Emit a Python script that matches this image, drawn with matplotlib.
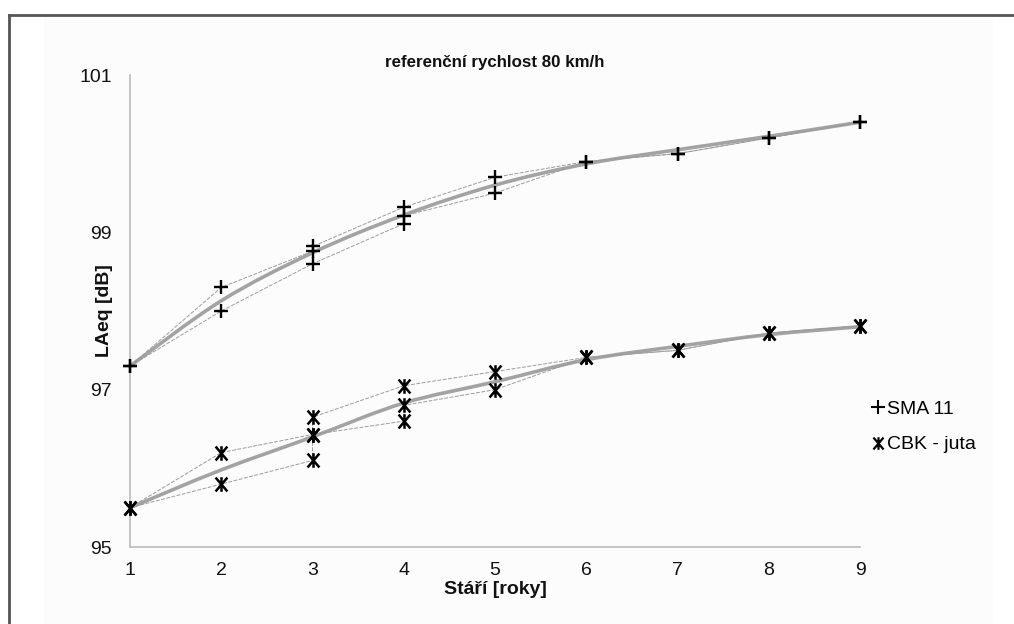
import matplotlib
matplotlib.use("Agg")
import matplotlib.pyplot as plt
from matplotlib.path import Path
from matplotlib.patches import PathPatch, Rectangle
from matplotlib.lines import Line2D
import numpy as np

plt.rcParams['font.family'] = ['Liberation Sans', 'DejaVu Sans']

# ---- data ----
years = [1, 2, 3, 4, 5, 6, 7, 8, 9]
x_ticks = [1, 2, 3, 4, 5, 6, 7, 8, 9]
y_ticks = [95, 97, 99, 101]

sma_a_x = [1, 2, 3, 3, 4, 5, 6, 7, 8, 9]
sma_a_y = [97.3, 98.3, 98.76, 98.82, 99.32, 99.7, 99.9, 100.0, 100.2, 100.4]
sma_b_x = [1, 2, 3, 4, 4, 5, 6, 7, 8, 9]
sma_b_y = [97.3, 98.0, 98.6, 99.11, 99.21, 99.5, 99.9, 100.0, 100.2, 100.4]

cbk_a_x = [1, 2, 3, 3, 4, 5, 6, 7, 8, 9]
cbk_a_y = [95.5, 96.2, 96.43, 96.65, 97.05, 97.23, 97.41, 97.5, 97.72, 97.81]
cbk_b_x = [1, 2, 3, 3, 4, 4, 5, 6, 7, 8, 9]
cbk_b_y = [95.5, 95.8, 96.1, 96.43, 96.6, 96.8, 97.0, 97.41, 97.5, 97.72, 97.81]

sma_trend = [97.3, 98.13, 98.74, 99.22, 99.6, 99.87, 100.05, 100.22, 100.4]
cbk_trend = [95.5, 95.98, 96.4, 96.83, 97.1, 97.38, 97.55, 97.7, 97.8]

labels = ["SMA 11", "CBK - juta"]
title = "referenční rychlost 80 km/h"
xlabel = "Stáří [roky]"
ylabel = "LAeq [dB]"

# ---- figure ----
W, H = 1014, 624
fig = plt.figure(figsize=(W / 100, H / 100), dpi=100)
fig.patch.set_facecolor('white')

# chart-area background and frame
fig.add_artist(Rectangle((44 / W, 0), (993 - 44) / W, 1 - 17 / H,
                         transform=fig.transFigure, facecolor='#fcfcfc',
                         edgecolor='none', zorder=-10))
fig.add_artist(Line2D([9 / W, 9 / W], [0, 1 - 15 / H], transform=fig.transFigure,
                      color='#555555', lw=2.0))
fig.add_artist(Line2D([9 / W, 1], [1 - 15 / H, 1 - 15 / H], transform=fig.transFigure,
                      color='#555555', lw=2.0))

ax = fig.add_axes([130 / W, 77 / H, 730 / W, 472 / H])
ax.set_facecolor('none')
ax.set_xlim(1, 9)
ax.set_ylim(95, 101)
for s in ['top', 'right']:
    ax.spines[s].set_visible(False)
for s in ['left', 'bottom']:
    ax.spines[s].set_color('#c0c0c0')
    ax.spines[s].set_linewidth(1.3)
ax.set_xticks(x_ticks)
ax.set_yticks(y_ticks)
ax.tick_params(axis='both', length=0, labelsize=14, colors='#111111')
ax.tick_params(axis='y', pad=13)
ax.tick_params(axis='x', pad=11)


def smooth_path(xs, ys):
    pts = list(zip(xs, ys))
    n = len(pts)
    verts = [pts[0]]
    codes = [Path.MOVETO]
    for i in range(n - 1):
        p0 = pts[i - 1] if i > 0 else pts[i]
        p1 = pts[i]
        p2 = pts[i + 1]
        p3 = pts[i + 2] if i + 2 < n else pts[i + 1]
        c1 = (p1[0] + (p2[0] - p0[0]) / 6, p1[1] + (p2[1] - p0[1]) / 6)
        c2 = (p2[0] - (p3[0] - p1[0]) / 6, p2[1] - (p3[1] - p1[1]) / 6)
        verts += [c1, c2, p2]
        codes += [Path.CURVE4] * 3
    return Path(verts, codes)


for tr in (sma_trend, cbk_trend):
    ax.add_patch(PathPatch(smooth_path(years, tr), transform=ax.transData,
                           facecolor='none', edgecolor='#a3a3a3', lw=2.6,
                           zorder=2, clip_on=False))

thin = dict(color='#9c9c9c', lw=0.7, linestyle=(0, (4, 1.5)), zorder=3)
ax.plot(sma_a_x, sma_a_y, **thin)
ax.plot(sma_b_x, sma_b_y, **thin)
ax.plot(cbk_a_x, cbk_a_y, **thin)
ax.plot(cbk_b_x, cbk_b_y, **thin)

# star marker: X with vertical bar
star = Path([(-0.85, -1), (0.85, 1), (-0.85, 1), (0.85, -1), (0, -1.05), (0, 1.05)],
            [Path.MOVETO, Path.LINETO, Path.MOVETO, Path.LINETO, Path.MOVETO, Path.LINETO])

mk_sma = dict(marker='+', markersize=10, markeredgewidth=1.7, color='black',
              linestyle='none', zorder=5, clip_on=False)
mk_cbk = dict(marker=star, markersize=10.5, markeredgewidth=1.8, color='black',
              linestyle='none', zorder=5, clip_on=False)
ax.plot(sma_a_x, sma_a_y, **mk_sma)
ax.plot(sma_b_x, sma_b_y, **mk_sma)
ax.plot(cbk_a_x, cbk_a_y, **mk_cbk)
ax.plot(cbk_b_x, cbk_b_y, **mk_cbk)

ax.text(0.5, 1.027, title, transform=ax.transAxes, ha='center', va='center',
        fontsize=12.2, fontweight='bold', color='#111111')
ax.set_xlabel(xlabel, fontsize=14, fontweight='bold', color='#111111')
ax.xaxis.set_label_coords(0.5, -0.072)
ax.set_ylabel(ylabel, fontsize=14, fontweight='bold', color='#111111')
ax.yaxis.set_label_coords(-0.023, 0.5)

handles = [Line2D([], [], marker='+', markersize=10, markeredgewidth=1.5, color='black', linestyle='none'),
           Line2D([], [], marker=star, markersize=9, markeredgewidth=1.6, color='black', linestyle='none')]
fig.legend(handles, labels, loc='center left', bbox_to_anchor=(864 / W, 1 - 427 / H),
           frameon=False, fontsize=14, handlelength=0.6, handletextpad=0.2,
           labelspacing=0.9, borderaxespad=0)

fig.savefig('out.png', dpi=100)
